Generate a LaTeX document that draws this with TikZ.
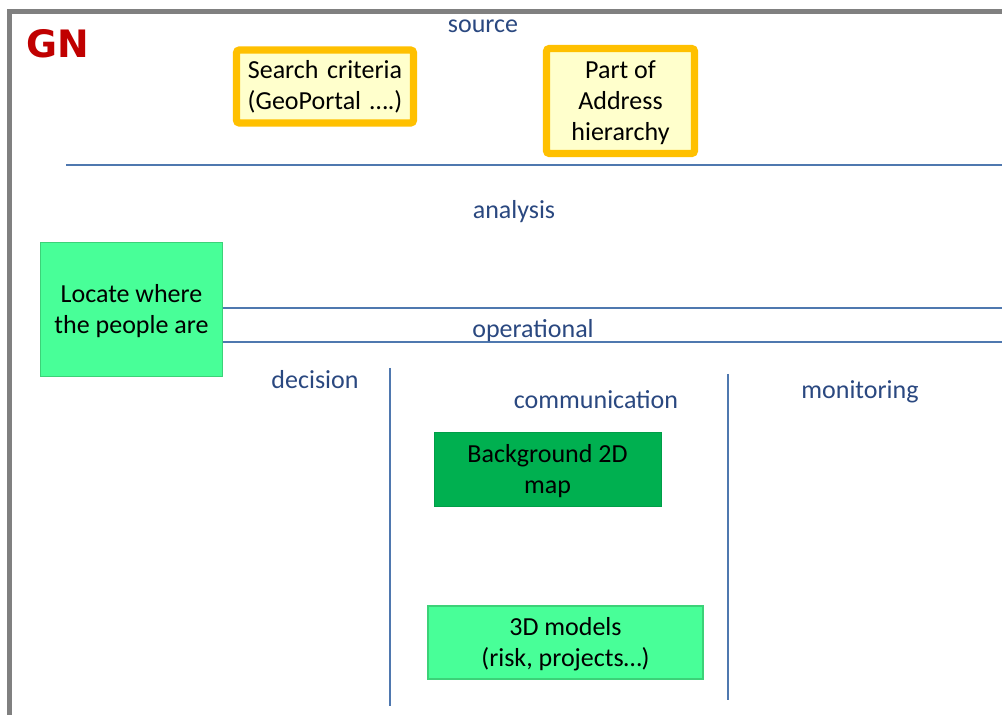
\documentclass[tikz,border=0pt]{standalone}
\usepackage{fontspec}
\setmainfont{Carlito}
\newfontfamily\gnfont{DejaVu Sans}
\definecolor{framegray}{RGB}{128,128,128}
\definecolor{labelblue}{RGB}{42,72,128}
\definecolor{rulelineblue}{RGB}{79,120,175}
\definecolor{gnred}{RGB}{192,0,0}
\definecolor{amber}{RGB}{255,192,0}
\definecolor{paleyellow}{RGB}{255,255,204}
\definecolor{mint}{RGB}{72,255,152}
\definecolor{mintedge}{RGB}{60,210,120}
\definecolor{darkgreen}{RGB}{0,176,80}
\tikzset{
  px/.style={x=0.02cm,y=-0.02cm},
  txt/.style={font=\fontsize{14.8pt}{17.6pt}\selectfont, align=center, text=black},
  sectionlabel/.style={font=\fontsize{14.8pt}{17.6pt}\selectfont, text=labelblue, inner sep=0pt},
  srcbox/.style={draw=amber, line width=4pt, fill=paleyellow, rounded corners=1.5pt, inner sep=0pt, txt},
  mintbox/.style={draw=mintedge, line width=0.6pt, fill=mint, inner sep=0pt, txt},
  darkbox/.style={draw=darkgreen!90!black, line width=0.4pt, fill=darkgreen, inner sep=0pt, txt},
  divider/.style={draw=rulelineblue, line width=0.9pt},
}
\begin{document}
\begin{tikzpicture}[px]
\useasboundingbox (0,0) rectangle (1002,715);
\fill[white] (0,0) rectangle (1002,715);

% outer frame (top and left edges)
\draw[framegray, line width=2.8pt] (1002,11.5) -- (9.5,11.5) -- (9.5,715);

% title
\node[text=gnred, font=\gnfont\bfseries\fontsize{21.5pt}{24pt}\selectfont, inner sep=0pt, anchor=west] (gn) at (26,44) {GN};

% source layer
\node[sectionlabel] (source) at (483,26.5) {source};
\node[srcbox, text width=172*0.02cm, minimum width=177*0.02cm, minimum height=73*0.02cm] (search) at (325,86.5) {Search criteria\\(GeoPortal ….)};
\node[srcbox, text width=140*0.02cm, minimum width=148*0.02cm, minimum height=105*0.02cm] (address) at (620.5,101) {};
\node[txt, inner sep=0pt] at (620.5,102.5) {Part of\\Address\\hierarchy};

\coordinate (l1a) at (66,165);
\coordinate (l1b) at (1002,165);
\draw[divider] (l1a) -- (l1b);

% analysis layer
\node[sectionlabel] (analysis) at (514,211.5) {analysis};
\node[mintbox, minimum width=182*0.02cm, minimum height=134*0.02cm] (locate) at (131.5,309.5) {};
\node[txt, inner sep=0pt] at (131.5,311) {Locate where\\the people are};

\coordinate (l2b) at (1002,308);
\coordinate (l3b) at (1002,342);
\draw[divider] (locate.east |- l2b) -- (l2b);
\draw[divider] (locate.east |- l3b) -- (l3b);

% operational layer
\node[sectionlabel] (operational) at (533,330.5) {operational};
\node[sectionlabel] (decision) at (315,379.5) {decision};
\node[sectionlabel] (communication) at (596,399.5) {communication};
\node[sectionlabel] (monitoring) at (860,391.5) {monitoring};

\coordinate (v1a) at (390,368);
\coordinate (v1b) at (390,706);
\coordinate (v2a) at (728,374);
\coordinate (v2b) at (728,700);
\draw[divider] (v1a) -- (v1b);
\draw[divider] (v2a) -- (v2b);

\node[darkbox, minimum width=227*0.02cm, minimum height=74*0.02cm] (map2d) at (547.5,469) {};
\node[txt, inner sep=0pt] at (547.5,471) {Background 2D\\map};
\node[mintbox, minimum width=275*0.02cm, minimum height=73*0.02cm] (models3d) at (565.5,642.5) {};
\node[txt, inner sep=0pt] at (565.5,644) {3D models\\(risk, projects…)};
\end{tikzpicture}
\end{document}
